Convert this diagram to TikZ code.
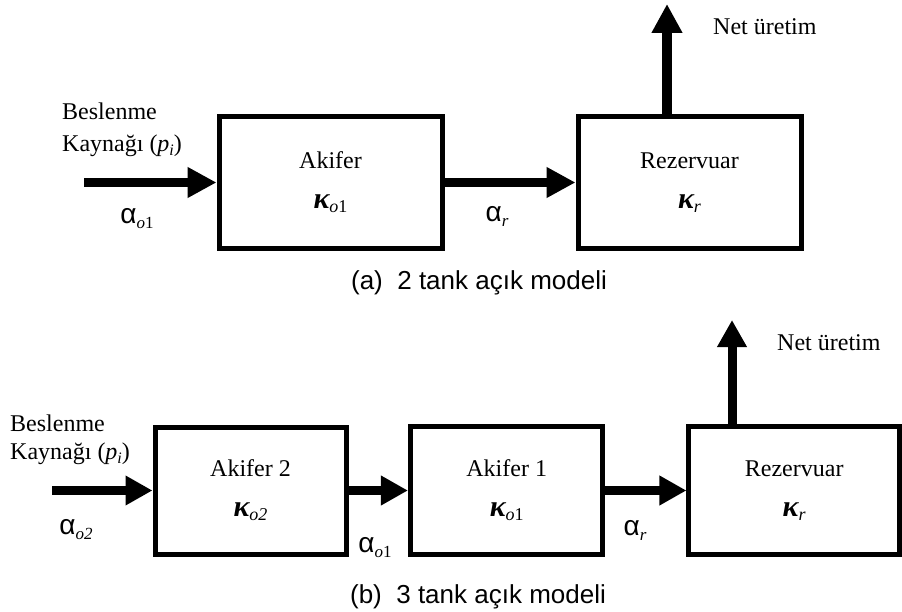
\documentclass[tikz,border=0pt]{standalone}
\usepackage{fontspec}
\setmainfont{Liberation Serif}
\newfontfamily\arialfont{Liberation Sans}
\usetikzlibrary{arrows.meta}
\newcommand\myalpha[1]{{\arialfont\fontsize{28}{28}\selectfont α}\raisebox{-5pt}{\fontsize{17}{17}\selectfont #1}}
\newcommand\mykappa[1]{{\fontsize{30}{30}\selectfont\bfseries\itshape κ}\raisebox{-4pt}{\fontsize{18}{18}\selectfont #1}}
\newcommand\mysub[1]{\raisebox{-4pt}{\fontsize{16}{16}\selectfont #1}}
\begin{document}
\begin{tikzpicture}[x=1pt,y=-1pt,
  tank/.style={draw, line width=5pt, inner sep=0pt, align=center, font=\fontsize{24}{40}\selectfont},
  flowa/.style={line width=9.5pt, -{Triangle[length=29pt,width=29pt]}},
  flowb/.style={line width=9pt, -{Triangle[length=27pt,width=28pt]}},
  lbl/.style={inner sep=0pt, font=\fontsize{24}{28}\selectfont},
  captxt/.style={inner sep=0pt, font=\arialfont\fontsize{26}{30}\selectfont},
]
\useasboundingbox (0,0) rectangle (902,612);

% ---------- (a) ----------
\node[tank, minimum width=223pt, minimum height=132pt] (A1) at (330.5,182.5) {Akifer\\\mykappa{\textit{o}1}};
\node[tank, minimum width=223pt, minimum height=132pt] (R1) at (689.5,182.5) {Rezervuar\\\mykappa{\textit{r}}};
\coordinate (in1) at (84,182.5);
\coordinate (out1) at (667,4);
\draw[flowa] (in1) -- (A1.west);
\draw[flowa] (A1.east) -- (R1.west);
\draw[flowa] (R1.north -| out1) -- (out1);

\node[lbl, anchor=base west] (bes1) at (62,120) {Beslenme};
\node[lbl, anchor=base west] (kay1) at (62,152) {Kaynağı (\textit{p}\mysub{\textit{i}})};
\node[lbl] (ao1) at (137,219) {\myalpha{\textit{o}1}};
\node[lbl] (ar1) at (497,216) {\myalpha{\textit{r}}};
\node[lbl, anchor=base west] (net1) at (713,35) {Net üretim};
\node[captxt] (capa) at (479,283) {(a)\ \ 2 tank açık modeli};

% ---------- (b) ----------
\node[tank, minimum width=191pt, minimum height=127pt] (A2) at (250.5,490.5) {Akifer 2\\\mykappa{\textit{o2}}};
\node[tank, minimum width=192.5pt, minimum height=128pt] (B1) at (506.7,490.5) {Akifer 1\\\mykappa{\textit{o}1}};
\node[tank, minimum width=210.5pt, minimum height=127.5pt] (R2) at (794.2,490.5) {Rezervuar\\\mykappa{\textit{r}}};
\coordinate (in2) at (52,490.5);
\coordinate (out2) at (732,320);
\draw[flowb] (in2) -- (A2.west);
\draw[flowb] (A2.east) -- (B1.west);
\draw[flowb] (B1.east) -- (R2.west);
\draw[flowb] (R2.north -| out2) -- (out2);

\node[lbl, anchor=base west] (bes2) at (10,431) {Beslenme};
\node[lbl, anchor=base west] (kay2) at (10,459) {Kaynağı (\textit{p}\mysub{\textit{i}})};
\node[lbl] (ao2) at (76,530) {\myalpha{\textit{o2}}};
\node[lbl] (ao1b) at (375,548) {\myalpha{\textit{o}1}};
\node[lbl] (arb) at (635,530) {\myalpha{\textit{r}}};
\node[lbl, anchor=base west] (net2) at (777,350) {Net üretim};
\node[captxt] (capb) at (478,597) {(b)\ \ 3 tank açık modeli};
\end{tikzpicture}
\end{document}
